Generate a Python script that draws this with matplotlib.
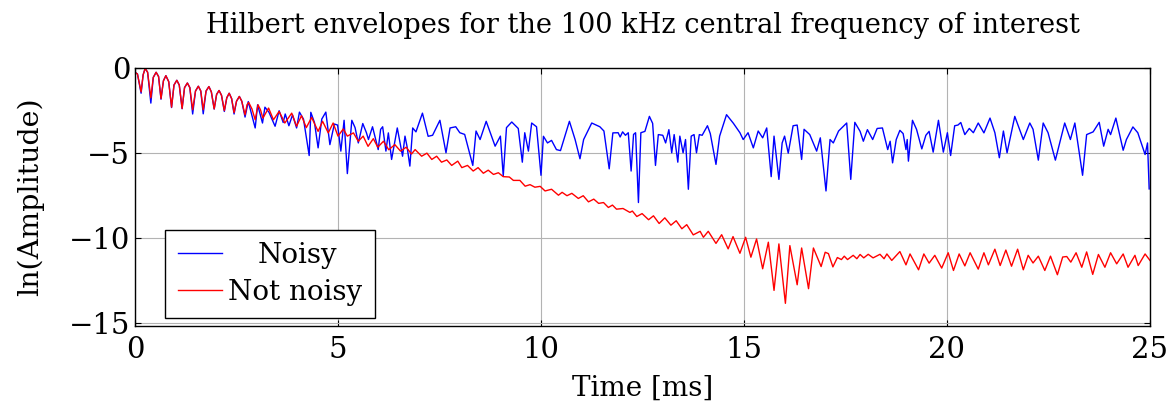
import matplotlib
matplotlib.use("Agg")
import matplotlib.pyplot as plt

plt.rcParams.update({
    "font.family": "serif",
    "font.serif": ["DejaVu Serif"],
    "mathtext.fontset": "dejavuserif",
    "font.size": 18,
})

# "Not noisy" envelope (time in ms, ln amplitude)
t_clean = [0.00, 0.06, 0.15, 0.20, 0.25, 0.31, 0.39, 0.45, 0.52, 0.58, 0.64, 0.70, 0.76, 0.83, 0.90, 0.96,
           1.03, 1.09, 1.16, 1.22, 1.29, 1.35, 1.42, 1.49, 1.56, 1.62, 1.68, 1.75, 1.82, 1.88, 1.95, 2.01,
           2.07, 2.13, 2.20, 2.26, 2.32, 2.38, 2.44, 2.50, 2.57, 2.63, 2.71, 2.76, 2.80, 2.88, 2.96, 3.03,
           3.09, 3.15, 3.29, 3.41, 3.55, 3.69, 3.86, 3.98, 4.10, 4.22, 4.35, 4.51, 4.62, 4.76, 4.88, 5.00,
           5.13, 5.23, 5.38, 5.50, 5.62, 5.74, 5.87, 5.98, 6.12, 6.25, 6.40, 6.54, 6.68, 6.81, 6.90, 7.06,
           7.19, 7.31, 7.43, 7.55, 7.68, 7.80, 7.95, 8.05, 8.19, 8.33, 8.45, 8.58, 8.70, 8.83, 8.95, 9.07,
           9.22, 9.32, 9.48, 9.61, 9.73, 9.85, 9.98, 10.10, 10.26, 10.43, 10.52, 10.64, 10.76, 10.92, 11.04, 11.17,
           11.30, 11.42, 11.54, 11.66, 11.76, 11.86, 12.02, 12.19, 12.25, 12.36, 12.49, 12.65, 12.77, 12.91, 13.05, 13.20,
           13.33, 13.47, 13.59, 13.75, 13.92, 14.00, 14.12, 14.31, 14.45, 14.61, 14.73, 14.90, 15.04, 15.17, 15.31, 15.46,
           15.60, 15.74, 15.86, 16.02, 16.13, 16.31, 16.42, 16.59, 16.71, 16.90, 17.00, 17.08, 17.19, 17.30, 17.40, 17.47,
           17.55, 17.69, 17.78, 17.86, 17.95, 18.06, 18.18, 18.35, 18.45, 18.52, 18.64, 18.84, 18.99, 19.09, 19.30, 19.43,
           19.56, 19.70, 19.87, 20.03, 20.16, 20.30, 20.44, 20.57, 20.77, 20.91, 21.02, 21.18, 21.31, 21.45, 21.59, 21.74,
           21.88, 22.00, 22.12, 22.25, 22.41, 22.55, 22.72, 22.85, 22.95, 23.05, 23.18, 23.32, 23.44, 23.59, 23.73, 23.89,
           24.03, 24.18, 24.34, 24.46, 24.63, 24.71, 24.88, 25.00]
ln_clean = [-0.25, -0.35, -1.40, -0.40, -0.02, -0.25, -1.75, -0.55, -0.25, -0.50, -1.80, -0.75, -0.45, -0.80, -2.30, -1.00,
            -0.72, -1.00, -2.38, -1.15, -0.88, -1.15, -2.45, -1.35, -1.07, -1.35, -2.45, -1.35, -1.09, -1.40, -2.40, -1.55,
            -1.32, -1.60, -2.50, -1.75, -1.48, -1.80, -2.62, -1.95, -1.67, -1.95, -2.75, -2.15, -2.02, -2.40, -3.04, -2.16,
            -2.45, -2.94, -2.35, -3.04, -2.55, -3.23, -2.65, -3.42, -2.80, -3.50, -2.90, -3.72, -3.13, -3.81, -3.23, -4.00,
            -3.58, -4.00, -3.81, -4.30, -4.00, -4.60, -4.15, -4.65, -4.30, -4.80, -4.50, -4.88, -4.65, -5.05, -4.79, -5.18,
            -5.00, -5.37, -5.18, -5.53, -5.40, -5.72, -5.47, -5.85, -5.72, -6.05, -5.85, -6.18, -6.00, -6.25, -6.15, -6.38,
            -6.40, -6.60, -6.60, -6.94, -6.85, -7.00, -6.95, -7.22, -7.12, -7.47, -7.30, -7.50, -7.36, -7.66, -7.50, -7.86,
            -7.70, -7.95, -7.90, -8.19, -8.05, -8.29, -8.25, -8.48, -8.40, -8.72, -8.55, -8.91, -8.68, -9.13, -8.80, -9.23,
            -8.97, -9.44, -9.20, -9.80, -9.59, -9.94, -9.59, -10.30, -9.79, -10.62, -9.90, -10.88, -9.94, -11.11, -10.04, -11.79,
            -10.23, -13.06, -10.33, -13.82, -10.43, -12.73, -10.57, -12.96, -10.57, -11.66, -10.82, -10.90, -11.68, -11.13, -11.25, -11.05,
            -11.25, -11.00, -11.20, -10.95, -11.15, -10.94, -11.15, -10.94, -11.20, -10.92, -11.30, -10.78, -11.56, -10.92, -11.85, -10.92,
            -11.46, -11.00, -11.75, -10.85, -11.89, -10.92, -11.62, -10.85, -11.81, -10.85, -11.56, -10.64, -11.60, -10.69, -11.64, -10.64,
            -11.85, -11.00, -11.45, -11.05, -11.89, -11.05, -12.14, -11.10, -11.07, -11.40, -10.85, -11.70, -10.80, -12.12, -10.95, -11.70,
            -10.85, -11.50, -10.92, -11.70, -11.00, -11.60, -10.92, -11.30]

# "Noisy" envelope
t_noisy = [0.00, 0.06, 0.15, 0.20, 0.25, 0.31, 0.39, 0.45, 0.52, 0.58, 0.64, 0.70, 0.76, 0.83, 0.90, 0.96,
           1.03, 1.09, 1.16, 1.22, 1.29, 1.35, 1.42, 1.49, 1.56, 1.62, 1.68, 1.75, 1.82, 1.88, 1.95, 2.01,
           2.07, 2.13, 2.20, 2.26, 2.32, 2.38, 2.44, 2.50, 2.57, 2.63, 2.71, 2.79, 2.96, 3.02, 3.14, 3.20,
           3.30, 3.45, 3.55, 3.65, 3.70, 3.79, 3.88, 3.98, 4.05, 4.15, 4.29, 4.33, 4.42, 4.51, 4.60, 4.70,
           4.80, 4.91, 4.99, 5.07, 5.15, 5.23, 5.34, 5.42, 5.50, 5.61, 5.70, 5.75, 5.85, 5.99, 6.05, 6.10,
           6.18, 6.24, 6.32, 6.46, 6.59, 6.65, 6.70, 6.77, 6.84, 6.92, 7.08, 7.22, 7.33, 7.51, 7.66, 7.76,
           7.90, 8.00, 8.12, 8.25, 8.32, 8.40, 8.50, 8.65, 8.87, 9.00, 9.07, 9.15, 9.28, 9.44, 9.54, 9.60,
           9.69, 9.77, 9.89, 10.00, 10.06, 10.16, 10.26, 10.38, 10.48, 10.70, 10.84, 10.96, 11.05, 11.25, 11.45, 11.55,
           11.68, 11.77, 11.90, 11.95, 12.01, 12.08, 12.15, 12.22, 12.28, 12.33, 12.40, 12.46, 12.56, 12.67, 12.75, 12.82,
           12.89, 13.00, 13.07, 13.15, 13.22, 13.28, 13.37, 13.42, 13.50, 13.56, 13.63, 13.70, 13.77, 13.83, 13.90, 13.97,
           14.10, 14.17, 14.31, 14.40, 14.57, 14.74, 14.90, 14.98, 15.10, 15.23, 15.35, 15.46, 15.56, 15.67, 15.74, 15.86,
           15.94, 16.00, 16.09, 16.21, 16.31, 16.42, 16.48, 16.62, 16.79, 16.88, 17.02, 17.12, 17.20, 17.33, 17.53, 17.63,
           17.73, 17.86, 17.94, 18.04, 18.17, 18.28, 18.41, 18.54, 18.60, 18.66, 18.75, 18.84, 18.92, 18.99, 19.02, 19.05,
           19.15, 19.25, 19.38, 19.48, 19.56, 19.66, 19.79, 19.91, 20.01, 20.09, 20.19, 20.27, 20.34, 20.44, 20.55, 20.65,
           20.77, 20.91, 21.06, 21.18, 21.29, 21.39, 21.48, 21.67, 21.88, 22.04, 22.12, 22.25, 22.37, 22.49, 22.67, 22.90,
           23.04, 23.15, 23.34, 23.44, 23.60, 23.75, 23.86, 23.97, 24.03, 24.16, 24.34, 24.42, 24.58, 24.70, 24.88, 24.94,
           24.98]
ln_noisy = [-0.25, -0.35, -1.48, -0.40, -0.02, -0.25, -2.06, -0.55, -0.25, -0.50, -1.83, -0.75, -0.45, -0.80, -2.32, -1.00,
            -0.72, -1.00, -2.39, -1.15, -0.88, -1.15, -2.70, -1.35, -1.07, -1.35, -2.69, -1.35, -1.09, -1.40, -2.41, -1.55,
            -1.32, -1.60, -2.55, -1.75, -1.48, -1.80, -2.70, -1.95, -1.67, -1.95, -2.88, -1.97, -3.52, -2.16, -3.23, -2.30,
            -2.60, -3.42, -2.51, -3.20, -2.70, -3.39, -2.75, -3.52, -2.59, -3.00, -5.14, -2.60, -3.20, -4.69, -3.00, -2.59,
            -4.50, -3.29, -3.35, -4.88, -3.07, -6.20, -3.07, -3.50, -4.40, -3.26, -3.80, -4.20, -3.45, -4.79, -3.60, -3.45,
            -4.88, -3.81, -5.37, -3.52, -5.18, -4.00, -4.60, -5.76, -3.52, -3.75, -2.65, -4.01, -3.95, -3.07, -4.98, -3.52,
            -3.45, -3.80, -3.90, -5.08, -5.72, -3.70, -4.20, -3.13, -4.59, -4.00, -6.34, -3.50, -3.17, -3.55, -5.53, -3.80,
            -4.88, -3.23, -3.45, -6.30, -4.01, -4.40, -4.25, -4.79, -4.85, -3.13, -4.20, -5.33, -4.20, -3.23, -3.45, -3.70,
            -5.92, -3.81, -3.80, -4.05, -3.75, -3.95, -3.80, -6.05, -3.90, -3.80, -7.90, -3.80, -3.72, -2.84, -3.25, -5.72,
            -3.91, -3.95, -4.40, -3.62, -4.98, -3.91, -5.53, -4.00, -4.98, -4.20, -7.12, -4.00, -3.91, -4.98, -3.91, -3.95,
            -3.39, -3.85, -5.66, -4.00, -2.74, -3.25, -3.80, -4.20, -3.80, -4.69, -3.70, -4.10, -3.52, -6.38, -4.00, -6.54,
            -4.40, -4.00, -5.00, -3.39, -3.35, -5.37, -3.60, -3.91, -4.88, -4.10, -7.22, -4.20, -4.40, -3.70, -3.23, -6.54,
            -3.19, -3.72, -4.30, -3.62, -4.20, -3.55, -3.52, -4.79, -4.30, -5.57, -4.20, -3.66, -3.85, -4.79, -4.20, -5.47,
            -3.07, -3.60, -4.75, -3.95, -3.72, -4.94, -3.07, -4.94, -3.80, -5.14, -3.39, -3.35, -3.20, -3.91, -3.55, -3.80,
            -3.23, -3.81, -2.94, -3.80, -5.27, -3.70, -4.98, -2.84, -4.20, -3.23, -3.60, -5.41, -3.23, -3.80, -5.41, -3.23,
            -4.20, -3.23, -6.30, -3.91, -3.75, -3.19, -4.59, -3.60, -3.91, -2.94, -4.83, -4.20, -3.46, -3.80, -5.08, -4.40,
            -7.10]

fig = plt.figure(figsize=(11.72, 4.15), dpi=100)
ax = fig.add_axes([0.1152, 0.2145, 0.866, 0.6216])

ax.plot(t_noisy, ln_noisy, color="#0000ff", lw=1.0, label="Noisy")
ax.plot(t_clean, ln_clean, color="#ff0000", lw=1.0, label="Not noisy")

ax.set_xlim(0, 25)
ax.set_ylim(-15.15, 0)
ax.set_xticks([0, 5, 10, 15, 20, 25])
ax.set_yticks([0, -5, -10, -15])
ax.grid(True, color="#b3b3b3", lw=0.8)
ax.set_axisbelow(True)
ax.tick_params(direction="in", length=4, top=True, right=True, labelsize=21)
ax.tick_params(axis="x", pad=7)
for s in ax.spines.values():
    s.set_linewidth(1.0)

ax.set_xlabel("Time [ms]", fontsize=20, labelpad=8)
ax.set_ylabel("ln(Amplitude)", fontsize=20.5, labelpad=18)
ax.set_title("Hilbert envelopes for the 100 kHz central frequency of interest", fontsize=19.6, pad=25)

leg = ax.legend(loc="lower left", bbox_to_anchor=(0.03, 0.03), fontsize=20, fancybox=False,
                edgecolor="black", framealpha=1, borderaxespad=0, handlelength=1.6,
                handletextpad=0.2, borderpad=0.45, labelspacing=0.35)
leg.get_frame().set_linewidth(1.0)
# centre the short label within the text column, like the original
leg.get_texts()[0].set_x(30)

fig.savefig("out.png", dpi=100)
